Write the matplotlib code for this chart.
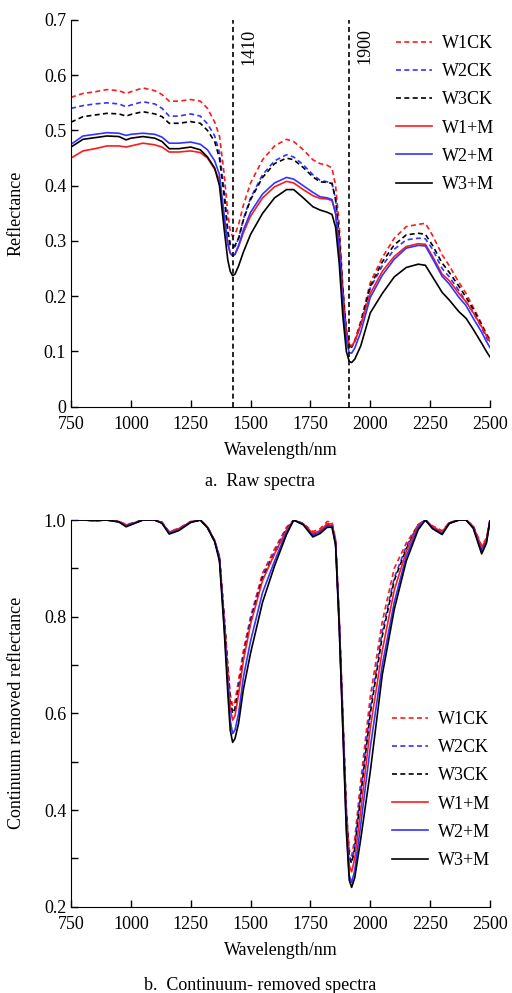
import numpy as np
import matplotlib
matplotlib.use("Agg")
import matplotlib.pyplot as plt

plt.rcParams['font.family'] = ['Liberation Serif', 'DejaVu Serif']
plt.rcParams['font.size'] = 13

# wavelength grid (nm) shared by all series
wl = [750, 800, 850, 900, 950, 980, 1000, 1050, 1100, 1130, 1160, 1200, 1250, 1290,
      1320, 1350, 1370, 1390, 1405, 1415, 1425, 1435, 1450, 1470, 1500, 1550, 1600,
      1650, 1680, 1720, 1760, 1790, 1820, 1840, 1855, 1870, 1885, 1900, 1912, 1922,
      1935, 1960, 2000, 2050, 2100, 2150, 2200, 2230, 2260, 2300, 2330, 2370, 2400,
      2430, 2465, 2485, 2500]

labels = ['W1CK', 'W2CK', 'W3CK', 'W1+M', 'W2+M', 'W3+M']

# a. raw spectra
raw_w1ck = [0.560, 0.567, 0.570, 0.574, 0.572, 0.567, 0.570, 0.577, 0.572, 0.565, 0.553, 0.553,
            0.556, 0.553, 0.540, 0.515, 0.490, 0.420, 0.350, 0.318, 0.308, 0.312, 0.330, 0.365,
            0.405, 0.447, 0.472, 0.484, 0.480, 0.465, 0.447, 0.440, 0.437, 0.432, 0.400, 0.330,
            0.220, 0.140, 0.112, 0.110, 0.120, 0.155, 0.225, 0.270, 0.305, 0.326, 0.330, 0.332,
            0.310, 0.275, 0.255, 0.225, 0.205, 0.180, 0.150, 0.132, 0.122]
raw_w2ck = [0.540, 0.545, 0.548, 0.550, 0.548, 0.543, 0.546, 0.552, 0.548, 0.540, 0.526, 0.526,
            0.530, 0.526, 0.512, 0.490, 0.460, 0.390, 0.320, 0.293, 0.287, 0.290, 0.305, 0.340,
            0.378, 0.420, 0.445, 0.456, 0.452, 0.438, 0.420, 0.410, 0.407, 0.405, 0.375, 0.310,
            0.210, 0.135, 0.110, 0.108, 0.118, 0.150, 0.215, 0.255, 0.285, 0.302, 0.305, 0.304,
            0.285, 0.250, 0.235, 0.210, 0.190, 0.170, 0.143, 0.125, 0.115]
raw_w3ck = [0.515, 0.525, 0.528, 0.531, 0.530, 0.526, 0.529, 0.534, 0.530, 0.525, 0.513, 0.513,
            0.516, 0.513, 0.500, 0.480, 0.450, 0.380, 0.315, 0.293, 0.290, 0.292, 0.305, 0.338,
            0.375, 0.415, 0.440, 0.450, 0.447, 0.433, 0.416, 0.407, 0.406, 0.404, 0.375, 0.310,
            0.210, 0.135, 0.110, 0.108, 0.118, 0.150, 0.218, 0.262, 0.293, 0.311, 0.314, 0.312,
            0.292, 0.260, 0.243, 0.218, 0.198, 0.176, 0.148, 0.130, 0.120]
raw_w1m = [0.450, 0.463, 0.467, 0.472, 0.472, 0.470, 0.472, 0.477, 0.474, 0.470, 0.461, 0.461,
           0.463, 0.460, 0.450, 0.430, 0.410, 0.340, 0.295, 0.278, 0.273, 0.276, 0.290, 0.315,
           0.345, 0.378, 0.398, 0.408, 0.405, 0.393, 0.382, 0.377, 0.376, 0.373, 0.350, 0.290,
           0.195, 0.130, 0.112, 0.110, 0.118, 0.148, 0.205, 0.245, 0.272, 0.290, 0.295, 0.294,
           0.272, 0.240, 0.228, 0.205, 0.190, 0.170, 0.145, 0.128, 0.118]
raw_w2m = [0.475, 0.490, 0.493, 0.496, 0.495, 0.491, 0.493, 0.495, 0.493, 0.488, 0.477, 0.477,
           0.479, 0.475, 0.465, 0.445, 0.420, 0.345, 0.295, 0.278, 0.273, 0.276, 0.292, 0.320,
           0.352, 0.385, 0.405, 0.415, 0.412, 0.400, 0.388, 0.380, 0.378, 0.375, 0.350, 0.285,
           0.185, 0.118, 0.098, 0.097, 0.106, 0.135, 0.198, 0.238, 0.267, 0.287, 0.292, 0.291,
           0.268, 0.236, 0.222, 0.198, 0.183, 0.160, 0.135, 0.118, 0.107]
raw_w3m = [0.470, 0.484, 0.487, 0.490, 0.489, 0.483, 0.486, 0.489, 0.486, 0.480, 0.467, 0.467,
           0.470, 0.465, 0.452, 0.432, 0.400, 0.320, 0.265, 0.245, 0.237, 0.240, 0.255, 0.280,
           0.312, 0.350, 0.378, 0.393, 0.393, 0.378, 0.362, 0.356, 0.352, 0.348, 0.325, 0.260,
           0.165, 0.100, 0.082, 0.080, 0.086, 0.110, 0.170, 0.205, 0.235, 0.252, 0.258, 0.256,
           0.235, 0.207, 0.193, 0.172, 0.160, 0.140, 0.115, 0.100, 0.090]

# b. continuum-removed spectra
cr_w1ck = [1.000, 1.000, 0.999, 1.000, 0.997, 0.991, 0.993, 1.000, 1.000, 0.995, 0.976, 0.983,
           0.997, 1.000, 0.986, 0.958, 0.925, 0.800, 0.700, 0.640, 0.615, 0.625, 0.670, 0.730,
           0.800, 0.890, 0.940, 0.985, 1.000, 0.993, 0.976, 0.982, 0.997, 0.996, 0.960, 0.800,
           0.600, 0.400, 0.318, 0.305, 0.340, 0.460, 0.635, 0.790, 0.900, 0.952, 0.990, 1.000,
           0.988, 0.978, 0.995, 1.000, 1.000, 0.988, 0.947, 0.962, 1.000]
cr_w2ck = [1.000, 1.000, 0.999, 1.000, 0.997, 0.989, 0.992, 1.000, 1.000, 0.995, 0.974, 0.981,
           0.996, 1.000, 0.985, 0.956, 0.922, 0.795, 0.690, 0.625, 0.600, 0.610, 0.655, 0.720,
           0.795, 0.885, 0.935, 0.983, 1.000, 0.992, 0.972, 0.978, 0.992, 0.992, 0.955, 0.795,
           0.595, 0.395, 0.305, 0.295, 0.325, 0.440, 0.610, 0.770, 0.880, 0.945, 0.990, 1.000,
           0.986, 0.975, 0.994, 1.000, 1.000, 0.986, 0.940, 0.958, 1.000]
cr_w3ck = [1.000, 1.000, 0.999, 1.000, 0.997, 0.989, 0.992, 1.000, 1.000, 0.995, 0.974, 0.981,
           0.996, 1.000, 0.985, 0.956, 0.922, 0.795, 0.690, 0.625, 0.600, 0.610, 0.650, 0.715,
           0.790, 0.880, 0.930, 0.980, 1.000, 0.992, 0.970, 0.977, 0.990, 0.990, 0.955, 0.795,
           0.595, 0.395, 0.300, 0.290, 0.320, 0.430, 0.600, 0.760, 0.875, 0.940, 0.990, 1.000,
           0.985, 0.974, 0.994, 1.000, 1.000, 0.985, 0.938, 0.957, 1.000]
cr_w1m = [1.000, 1.000, 0.999, 1.000, 0.997, 0.990, 0.992, 1.000, 1.000, 0.995, 0.975, 0.982,
          0.996, 1.000, 0.985, 0.957, 0.922, 0.790, 0.680, 0.610, 0.586, 0.595, 0.640, 0.710,
          0.785, 0.875, 0.930, 0.980, 1.000, 0.992, 0.972, 0.978, 0.992, 0.992, 0.955, 0.790,
          0.585, 0.380, 0.285, 0.272, 0.300, 0.400, 0.570, 0.730, 0.855, 0.935, 0.990, 1.000,
          0.986, 0.976, 0.994, 1.000, 1.000, 0.987, 0.944, 0.960, 1.000]
cr_w2m = [1.000, 1.000, 0.999, 1.000, 0.996, 0.988, 0.991, 1.000, 1.000, 0.994, 0.973, 0.980,
          0.996, 1.000, 0.985, 0.957, 0.920, 0.780, 0.660, 0.585, 0.558, 0.566, 0.600, 0.675,
          0.750, 0.850, 0.915, 0.975, 1.000, 0.991, 0.968, 0.975, 0.988, 0.988, 0.950, 0.785,
          0.575, 0.365, 0.265, 0.250, 0.275, 0.370, 0.530, 0.700, 0.830, 0.925, 0.985, 1.000,
          0.983, 0.972, 0.993, 1.000, 1.000, 0.984, 0.935, 0.955, 1.000]
cr_w3m = [1.000, 1.000, 0.999, 1.000, 0.996, 0.986, 0.990, 1.000, 1.000, 0.993, 0.971, 0.978,
          0.995, 1.000, 0.984, 0.955, 0.915, 0.770, 0.640, 0.565, 0.540, 0.548, 0.580, 0.650,
          0.725, 0.830, 0.905, 0.970, 1.000, 0.990, 0.965, 0.972, 0.985, 0.985, 0.948, 0.780,
          0.570, 0.355, 0.255, 0.240, 0.260, 0.340, 0.480, 0.680, 0.815, 0.915, 0.980, 1.000,
          0.982, 0.970, 0.993, 1.000, 1.000, 0.983, 0.930, 0.952, 1.000]

raw = [raw_w1ck, raw_w2ck, raw_w3ck, raw_w1m, raw_w2m, raw_w3m]
cr = [cr_w1ck, cr_w2ck, cr_w3ck, cr_w1m, cr_w2m, cr_w3m]

colors = ['#ff1a1a', '#3333ff', 'black', '#ff1a1a', '#3333ff', 'black']
styles = [(0, (3, 2)), (0, (3, 2)), (0, (3, 2)), '-', '-', '-']

# absorption band markers (drawn where they sit in the picture)
bands = [1425, 1913]
band_labels = ['1410', '1900']
band_text_x = [1494, 1978]

fig = plt.figure(figsize=(5.12, 9.93), dpi=100)
ax1 = fig.add_axes([0.1387, 0.5904, 0.8184, 0.3895])
ax2 = fig.add_axes([0.1387, 0.0869, 0.8184, 0.3894])


def style_axis(ax):
    for s in ['top', 'right']:
        ax.spines[s].set_visible(False)
    ax.tick_params(direction='in', length=5, width=1, labelsize=13)
    ax.tick_params(axis='x', pad=7)
    ax.tick_params(which='minor', direction='in', length=5, width=1)
    ax.set_xlim(750, 2500)
    ax.set_xticks(np.arange(750, 2501, 250))
    ax.set_xlabel('Wavelength/nm', fontsize=13)
    ax.xaxis.set_label_coords(0.5, -0.092)
    ax.yaxis.set_label_coords(-0.11, 0.5)


for y, lab, c, ls in zip(raw, labels, colors, styles):
    ax1.plot(wl, y, color=c, linestyle=ls, linewidth=1.2, label=lab)
for b, t, tx in zip(bands, band_labels, band_text_x):
    ax1.plot([b, b], [0, 0.7], color='black', linestyle=(0, (3, 2)), linewidth=1.2)
    ax1.text(tx, 0.652, t, rotation=90, ha='center', va='center', fontsize=13)
style_axis(ax1)
ax1.set_ylim(0, 0.7)
ax1.set_yticks(np.arange(0, 0.71, 0.1))
ax1.set_yticklabels(['0', '0.1', '0.2', '0.3', '0.4', '0.5', '0.6', '0.7'])
ax1.set_ylabel('Reflectance', fontsize=13)
ax1.legend(loc='upper left', bbox_to_anchor=(396 / 512, 1 - 35 / 993),
           bbox_transform=fig.transFigure, frameon=False, fontsize=13,
           handlelength=2.0, handletextpad=0.55, labelspacing=0.62,
           borderpad=0, borderaxespad=0)

for y, lab, c, ls in zip(cr, labels, colors, styles):
    ax2.plot(wl, y, color=c, linestyle=ls, linewidth=1.2, label=lab)
style_axis(ax2)
ax2.set_ylim(0.2, 1.0)
ax2.set_yticks([0.2, 0.4, 0.6, 0.8, 1.0])
ax2.set_yticks([0.3, 0.5, 0.7, 0.9], minor=True)
ax2.set_yticklabels(['0.2', '0.4', '0.6', '0.8', '1.0'])
ax2.set_ylabel('Continuum removed reflectance', fontsize=13)
ax2.legend(loc='upper left', bbox_to_anchor=(392 / 512, 1 - 711 / 993),
           bbox_transform=fig.transFigure, frameon=False, fontsize=13,
           handlelength=2.0, handletextpad=0.55, labelspacing=0.62,
           borderpad=0, borderaxespad=0)

fig.text(260 / 512, 1 - 481 / 993, 'a.  Raw spectra', ha='center', va='center', fontsize=13)
fig.text(260 / 512, 1 - 985 / 993, 'b.  Continuum- removed spectra', ha='center', va='center',
         fontsize=13)

fig.savefig('out.png', dpi=100)
